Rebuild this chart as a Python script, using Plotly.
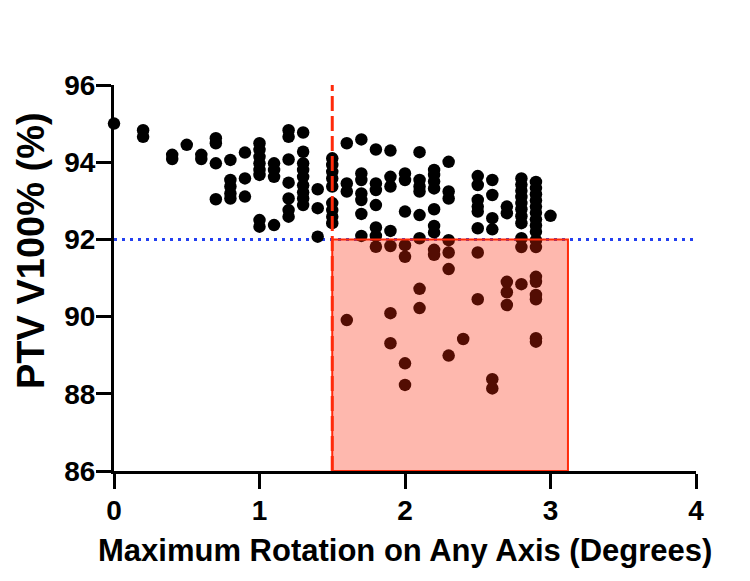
import plotly.graph_objects as go

# ---- data ----
rotation_deg = (
    [0.0]
    + [0.2] * 2
    + [0.4] * 2
    + [0.5]
    + [0.6] * 2
    + [0.7] * 4
    + [0.8] * 5
    + [0.9] * 3
    + [1.0] * 8
    + [1.1] * 4
    + [1.2] * 7
    + [1.3] * 9
    + [1.4] * 3
    + [1.5] * 9
    + [1.6] * 4
    + [1.7] * 7
    + [1.8] * 7
    + [1.9] * 7
    + [2.0] * 7
    + [2.1] * 8
    + [2.2] * 9
    + [2.3] * 7
    + [2.4]
    + [2.5] * 8
    + [2.6] * 6
    + [2.7] * 5
    + [2.8] * 11
    + [2.9] * 17
    + [3.0]
)

ptv_v100 = [
    95.0,
    94.83, 94.66,
    94.19, 94.08,
    94.45,
    94.19, 94.08,
    94.62, 94.49, 93.97, 93.04,
    94.06, 93.54, 93.37, 93.19, 93.06,
    94.25, 93.58, 93.11,
    94.49, 94.32, 94.14, 93.97, 93.80, 93.67, 92.50, 92.33,
    93.97, 93.80, 93.62, 92.37,
    94.83, 94.66, 94.07, 93.47, 93.06, 92.76, 92.59,
    94.77, 94.27, 93.97, 93.80, 93.62, 93.40, 93.22, 93.06, 92.89,
    93.30, 92.81, 92.07,
    94.10, 93.93, 93.75, 93.58, 93.37, 92.94, 92.76, 92.59, 92.42,
    94.49, 93.45, 93.24, 89.91,
    94.59, 93.71, 93.54, 93.19, 93.02, 92.66, 92.09,
    94.33, 93.45, 93.28, 92.89, 92.31, 92.09, 91.81,
    94.30, 93.62, 93.37, 92.22, 91.83, 90.09, 89.31,
    93.71, 93.54, 92.72, 91.85, 91.55, 88.79, 88.23,
    94.26, 93.54, 93.37, 93.24, 92.63, 92.03, 90.72, 90.22,
    93.80, 93.67, 93.50, 93.32, 92.78, 92.35, 92.18, 91.73, 91.60,
    94.01, 93.24, 93.06, 91.98, 91.66, 91.23, 88.99,
    89.42,
    93.64, 93.41, 93.02, 92.85, 92.72, 92.29, 91.66, 90.45,
    93.54, 93.15, 92.55, 92.26, 88.38, 88.14,
    92.85, 92.68, 90.90, 90.63, 90.30,
    93.58, 93.42, 93.26, 93.10, 92.94, 92.78, 92.60, 92.42, 92.03, 91.80, 90.84,
    93.49, 93.33, 93.17, 93.01, 92.85, 92.69, 92.52, 92.36, 92.20, 91.98, 91.80,
    91.03, 90.90, 90.56, 90.45, 89.44, 89.35,
    92.61,
]

x_ticks = [0, 1, 2, 3, 4]
y_ticks = [86, 88, 90, 92, 94, 96]

threshold_v100 = 92.0
threshold_rot = 1.5
box_x_max = 3.12
dash_top = 96.05

FONT = "Liberation Sans, Arial, sans-serif"

fig = go.Figure()
fig.add_trace(go.Scatter(
    x=rotation_deg, y=ptv_v100, mode="markers",
    marker=dict(color="black", size=12.5, line=dict(width=0)),
    cliponaxis=False, showlegend=False, hoverinfo="skip",
))

shapes = [
    dict(type="line", xref="x", yref="y", x0=0, x1=4, y0=threshold_v100, y1=threshold_v100,
         line=dict(color="#2340F0", width=3, dash="3px,5px"), layer="below"),
    dict(type="rect", xref="x", yref="y", x0=threshold_rot, x1=box_x_max, y0=86, y1=threshold_v100,
         fillcolor="rgba(252,40,10,0.33)", line=dict(color="#FF2A0A", width=2), layer="above"),
    dict(type="line", xref="x", yref="y", x0=threshold_rot, x1=threshold_rot, y0=86, y1=dash_top,
         line=dict(color="#FF2A0A", width=3, dash="15px,5px"), layer="above"),
]

fig.update_layout(
    width=750, height=581,
    margin=dict(l=114, r=54, t=85, b=110),
    paper_bgcolor="white", plot_bgcolor="white",
    shapes=shapes,
    font=dict(family=FONT, color="black"),
    annotations=[
        dict(text="Maximum Rotation on Any Axis (Degrees)", xref="paper", yref="paper",
             x=0.5, y=-0.205, xanchor="center", yanchor="middle", showarrow=False,
             font=dict(family=FONT, size=31, weight="bold", color="black")),
        dict(text="PTV V100% (%)", xref="paper", yref="paper",
             x=-0.143, y=0.572, xanchor="center", yanchor="middle", showarrow=False, textangle=-90,
             font=dict(family=FONT, size=38, weight="bold", color="black")),
    ],
)
fig.update_xaxes(
    range=[0, 4], tickvals=x_ticks, ticktext=[str(v) for v in x_ticks],
    showline=True, linecolor="black", linewidth=3, mirror=False,
    ticks="outside", ticklen=15, tickwidth=3, tickcolor="black",
    showgrid=False, zeroline=False, ticklabelstandoff=-3,
    tickfont=dict(family=FONT, size=28, weight="bold", color="black"),
)
fig.update_yaxes(
    range=[86, 96], tickvals=y_ticks, ticktext=[str(v) for v in y_ticks],
    showline=True, linecolor="black", linewidth=3, mirror=False,
    ticks="outside", ticklen=15, tickwidth=3, tickcolor="black",
    showgrid=False, zeroline=False, ticklabelstandoff=-5,
    tickfont=dict(family=FONT, size=28, weight="bold", color="black"),
)

fig.write_html("out.html")
